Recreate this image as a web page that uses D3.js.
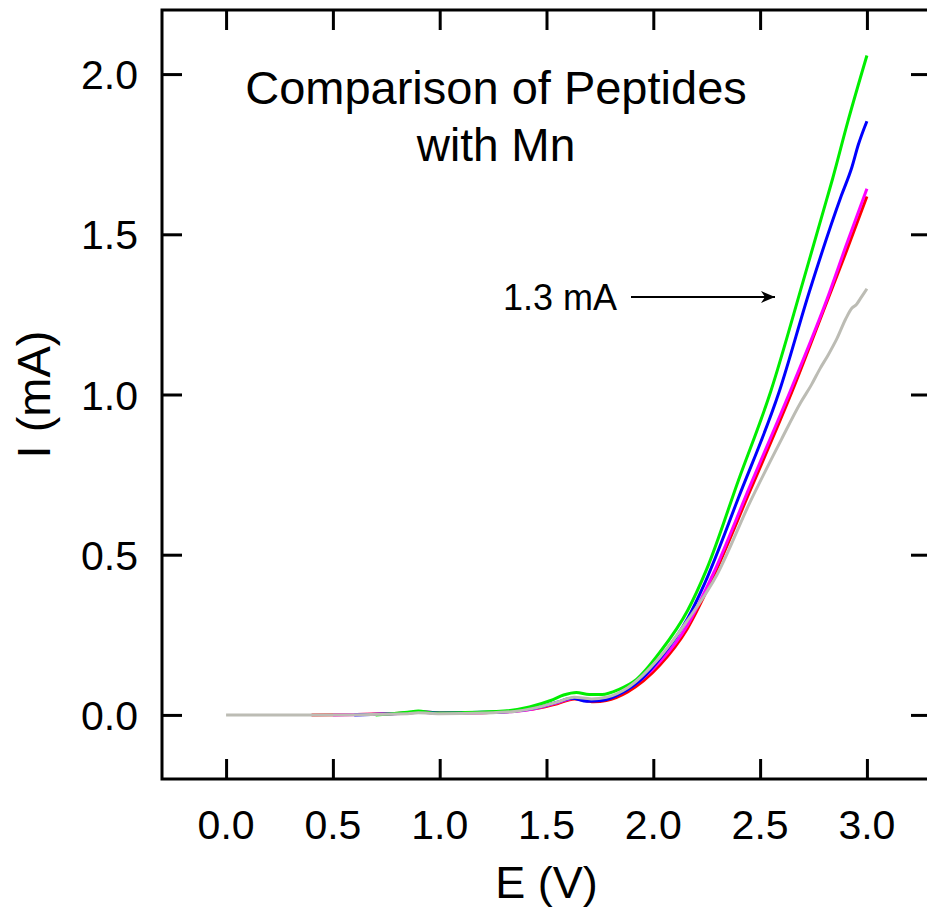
<!DOCTYPE html>
<html>
<head>
<meta charset="utf-8">
<script src="https://cdn.jsdelivr.net/npm/d3@7"></script>
<style>
  body { margin: 0; background: #fff; }
  text { font-family: "Liberation Sans", Arial, sans-serif; fill: #000; }
</style>
</head>
<body>
<script>
const width = 927;
const height = 914;

// tick values
const xTicks = [0.0, 0.5, 1.0, 1.5, 2.0, 2.5, 3.0];
const yTicks = [0.0, 0.5, 1.0, 1.5, 2.0];

// [E (V), I (mA)]
const red = [[0.40, 0], [0.66, 0.002], [0.85, 0.006], [0.90, 0.010], [1.00, 0.006], [1.20, 0.007], [1.35, 0.012], [1.45, 0.020], [1.55, 0.035], [1.63, 0.050], [1.72, 0.041], [1.78, 0.045], [1.88, 0.072], [2.03, 0.155], [2.16, 0.270], [2.28, 0.430], [2.45, 0.695], [2.65, 1.010], [2.81, 1.285], [2.90, 1.440], [3.00, 1.618]];
const magenta = [[0.50, 0], [0.85, 0.005], [0.90, 0.009], [1.00, 0.005], [1.20, 0.007], [1.35, 0.011], [1.45, 0.020], [1.55, 0.038], [1.63, 0.052], [1.71, 0.047], [1.78, 0.050], [1.88, 0.080], [2.03, 0.165], [2.16, 0.280], [2.28, 0.440], [2.45, 0.710], [2.65, 1.025], [2.82, 1.310], [2.90, 1.460], [3.00, 1.642]];
const blue = [[0.60, 0], [0.85, 0.006], [0.90, 0.010], [1.00, 0.006], [1.20, 0.008], [1.35, 0.012], [1.45, 0.022], [1.55, 0.040], [1.62, 0.052], [1.69, 0.043], [1.76, 0.045], [1.85, 0.068], [1.95, 0.115], [2.03, 0.175], [2.16, 0.300], [2.24, 0.410], [2.40, 0.680], [2.59, 1.010], [2.73, 1.320], [2.88, 1.620], [2.93, 1.710], [2.96, 1.780], [3.00, 1.853]];
const green = [[0.70, 0], [0.85, 0.008], [0.90, 0.012], [0.97, 0.006], [1.10, 0.007], [1.30, 0.012], [1.42, 0.025], [1.52, 0.045], [1.58, 0.062], [1.64, 0.070], [1.70, 0.064], [1.76, 0.064], [1.84, 0.080], [1.92, 0.110], [2.03, 0.195], [2.16, 0.325], [2.25, 0.455], [2.40, 0.735], [2.55, 1.010], [2.70, 1.350], [2.81, 1.605], [2.84, 1.675], [2.91, 1.850], [3.00, 2.058]];
const gray = [[0.00, 0], [0.40, 0], [0.85, 0.004], [0.90, 0.007], [1.00, 0.004], [1.20, 0.006], [1.35, 0.011], [1.45, 0.022], [1.55, 0.040], [1.63, 0.055], [1.71, 0.050], [1.78, 0.055], [1.88, 0.085], [2.03, 0.180], [2.16, 0.295], [2.30, 0.440], [2.45, 0.660], [2.60, 0.860], [2.69, 0.975], [2.74, 1.030], [2.78, 1.080], [2.82, 1.125], [2.86, 1.175], [2.90, 1.235], [2.93, 1.270], [2.95, 1.280], [2.97, 1.300], [3.00, 1.330]];

const series = [
  { values: red, color: "#ff0000" },
  { values: magenta, color: "#ff00ff" },
  { values: blue, color: "#0000ff" },
  { values: green, color: "#00ee00" },
  { values: gray, color: "#bcbcb4" }
];

const marco = { izq: 162, der: 931, arriba: 10, abajo: 779 };

const svg = d3
  .select("body")
  .append("svg")
  .attr("width", width)
  .attr("height", height);

const x = d3.scaleLinear().domain([-0.3, 3.3]).range([marco.izq, marco.der]);
const y = d3.scaleLinear().domain([-0.2, 2.2]).range([marco.abajo, marco.arriba]);

const fmt = d3.format(".1f");

// curves
const line = d3
  .line()
  .x((d) => x(d[0]))
  .y((d) => y(d[1]))
  .curve(d3.curveMonotoneX);

svg
  .selectAll("path.serie")
  .data(series)
  .enter()
  .append("path")
  .attr("class", "serie")
  .attr("d", (s) => line(s.values))
  .attr("fill", "none")
  .attr("stroke", (s) => s.color)
  .attr("stroke-width", 3);

// axes, ticks pointing inward
const tickLen = 20;
svg.append("g").attr("transform", `translate(0,${marco.abajo})`)
  .call(d3.axisTop(x).tickValues(xTicks).tickSize(tickLen).tickFormat(""));
svg.append("g").attr("transform", `translate(0,${marco.arriba})`)
  .call(d3.axisBottom(x).tickValues(xTicks).tickSize(tickLen).tickFormat(""));
svg.append("g").attr("transform", `translate(${marco.izq},0)`)
  .call(d3.axisRight(y).tickValues(yTicks).tickSize(tickLen).tickFormat(""));
svg.append("g").attr("transform", `translate(${marco.der},0)`)
  .call(d3.axisLeft(y).tickValues(yTicks).tickSize(tickLen).tickFormat(""));

svg.selectAll(".domain").remove();
svg.selectAll(".tick line").attr("stroke", "#000").attr("stroke-width", 3);

svg.append("rect")
  .attr("x", marco.izq).attr("y", marco.arriba)
  .attr("width", marco.der - marco.izq).attr("height", marco.abajo - marco.arriba)
  .attr("fill", "none").attr("stroke", "#000").attr("stroke-width", 3);

// tick labels
svg.selectAll("text.xl")
  .data(xTicks)
  .enter()
  .append("text")
  .attr("class", "xl")
  .attr("x", (d) => x(d))
  .attr("y", 839)
  .attr("text-anchor", "middle")
  .style("font-size", "41px")
  .text(fmt);

svg.selectAll("text.yl")
  .data(yTicks)
  .enter()
  .append("text")
  .attr("class", "yl")
  .attr("x", 138)
  .attr("y", (d) => y(d) + 15)
  .attr("text-anchor", "end")
  .style("font-size", "41px")
  .text(fmt);

// axis titles
svg.append("text")
  .attr("x", (marco.izq + marco.der) / 2)
  .attr("y", 898)
  .attr("text-anchor", "middle")
  .style("font-size", "45px")
  .text("E (V)");

svg.append("text")
  .attr("transform", `translate(50,${(marco.arriba + marco.abajo) / 2}) rotate(-90)`)
  .attr("text-anchor", "middle")
  .style("font-size", "47px")
  .text("I (mA)");

// title
svg.append("text")
  .attr("x", 496).attr("y", 104)
  .attr("text-anchor", "middle")
  .style("font-size", "47px")
  .text("Comparison of Peptides");
svg.append("text")
  .attr("x", 496).attr("y", 161)
  .attr("text-anchor", "middle")
  .style("font-size", "46px")
  .text("with Mn");

// annotation
svg.append("defs").append("marker")
  .attr("id", "head")
  .attr("viewBox", "0 0 14 12")
  .attr("refX", 14).attr("refY", 6)
  .attr("markerWidth", 14).attr("markerHeight", 12)
  .attr("markerUnits", "userSpaceOnUse")
  .attr("orient", "auto")
  .append("path")
  .attr("d", "M0,0 L14,6 L0,12 L4,6 Z")
  .attr("fill", "#000");

svg.append("text")
  .attr("x", 503).attr("y", 310)
  .style("font-size", "36px")
  .text("1.3 mA");

svg.append("line")
  .attr("x1", 631).attr("y1", 297)
  .attr("x2", 775).attr("y2", 297)
  .attr("stroke", "#000").attr("stroke-width", 2)
  .attr("marker-end", "url(#head)");
</script>
</body>
</html>
